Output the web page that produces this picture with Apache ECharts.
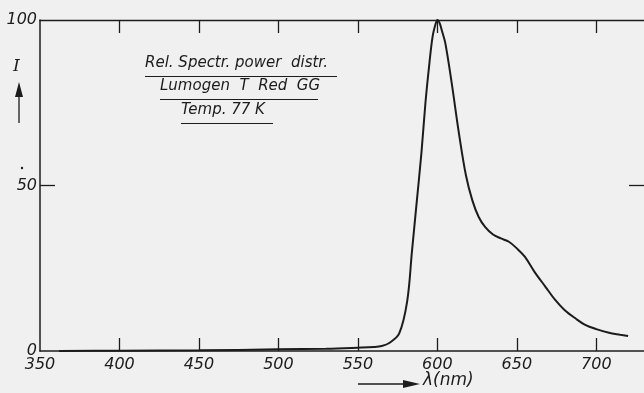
<!DOCTYPE html>
<html>
<head>
<meta charset="utf-8">
<script src="https://cdn.jsdelivr.net/npm/echarts@6/dist/echarts.min.js"></script>
<style>
  html, body { margin: 0; padding: 0; background: #f0f0f0; }
  #chart { width: 644px; height: 393px; }
</style>
</head>
<body>
<div id="chart"></div>
<script>
// wavelength (nm) and relative spectral power
const wavelength = [362, 400, 450, 500, 530, 550, 560, 565, 570, 576, 581, 584, 587, 590, 592.5, 595, 597, 599, 600, 601.5, 603, 605, 609, 613.5, 618, 622, 626, 630, 635, 640, 645, 650, 655, 661, 668, 674, 680, 687, 693, 700, 708, 715, 720];
const intensity  = [0, 0.1, 0.2, 0.5, 0.7, 1.0, 1.2, 1.5, 2.5, 5.3, 15, 30, 45, 60, 75, 87, 95, 99, 100, 99, 96.5, 93, 81, 66, 53, 45.5, 40.5, 37.5, 35.2, 34, 33, 31, 28.5, 24, 19.4, 15.5, 12.4, 9.8, 7.9, 6.6, 5.5, 4.9, 4.5];
const xTicks = [400, 450, 500, 550, 600, 650, 700];
const xLabels = [350, 400, 450, 500, 550, 600, 650, 700];
const yLabels = [0, 50, 100];
const yTicks = [50];

const ink = '#1c1c1c';
const labelFont = { color: ink, fontSize: 16, fontStyle: 'italic', fontFamily: 'DejaVu Sans' };

const chart = echarts.init(document.getElementById('chart'));

const titleLines = [
  { text: 'Rel. Spectr. power  distr.', x: 145, y: 56, w: 192 },
  { text: 'Lumogen  T  Red  GG', x: 160, y: 79, w: 158 },
  { text: 'Temp. 77 K', x: 181, y: 103, w: 92 }
];

const graphic = [];
titleLines.forEach(t => {
  graphic.push({
    type: 'text', left: t.x, top: t.y,
    style: { text: t.text, fill: ink, font: 'italic 15px "DejaVu Sans"' }
  });
  graphic.push({
    type: 'line', shape: { x1: t.x, y1: t.y + 20.5, x2: t.x + t.w, y2: t.y + 20.5 },
    style: { stroke: ink, lineWidth: 1 }
  });
});
// y-axis name with arrow
graphic.push({ type: 'text', left: 13, top: 58, style: { text: 'I', fill: ink, font: 'italic 17px "DejaVu Serif"' } });
graphic.push({ type: 'line', shape: { x1: 19, y1: 123, x2: 19, y2: 95 }, style: { stroke: ink, lineWidth: 1.3 } });
graphic.push({ type: 'polygon', shape: { points: [[19, 82], [15, 97], [23, 97]] }, style: { fill: ink } });
graphic.push({ type: 'circle', shape: { cx: 22, cy: 168, r: 1.2 }, style: { fill: ink } });
// x-axis name with arrow
graphic.push({ type: 'line', shape: { x1: 358, y1: 384, x2: 405, y2: 384 }, style: { stroke: ink, lineWidth: 1.3 } });
graphic.push({ type: 'polygon', shape: { points: [[420, 384], [403, 380], [403, 388]] }, style: { fill: ink } });
graphic.push({ type: 'text', left: 423, top: 372, style: { text: 'λ(nm)', fill: ink, font: 'italic 17px "DejaVu Sans"' } });

chart.setOption({
  backgroundColor: '#f0f0f0',
  animation: false,
  grid: { left: 40, right: 0, top: 20, bottom: 42 },
  xAxis: [
    {
      type: 'value', position: 'bottom', min: 350, max: 730, interval: 50,
      axisLine: { lineStyle: { color: ink, width: 1.6 } },
      axisTick: { inside: true, length: 13, customValues: xTicks, lineStyle: { color: ink, width: 1.3 } },
      axisLabel: Object.assign({ margin: 6, customValues: xLabels }, labelFont),
      splitLine: { show: false }
    },
    {
      type: 'value', position: 'top', min: 350, max: 730, interval: 50,
      axisLine: { show: true, onZero: false, lineStyle: { color: ink, width: 1.3 } },
      axisTick: { show: true, inside: true, length: 13, customValues: xTicks, lineStyle: { color: ink, width: 1.3 } },
      axisLabel: { show: true, color: 'rgba(0,0,0,0)', customValues: xTicks },
      splitLine: { show: false }
    }
  ],
  yAxis: [
    {
      type: 'value', position: 'left', min: 0, max: 100, interval: 50,
      axisLine: { show: true, lineStyle: { color: ink, width: 1.5 } },
      axisTick: { show: true, inside: true, length: 15, customValues: yTicks, lineStyle: { color: ink, width: 1.3 } },
      axisLabel: Object.assign({ margin: 3, customValues: yLabels }, labelFont),
      splitLine: { show: false }
    },
    {
      type: 'value', position: 'right', min: 0, max: 100, interval: 50,
      axisLine: { show: false },
      axisTick: { show: true, inside: true, length: 15, customValues: yTicks, lineStyle: { color: ink, width: 1.3 } },
      axisLabel: { show: false },
      splitLine: { show: false }
    }
  ],
  series: [{
    type: 'line',
    data: wavelength.map((w, i) => [w, intensity[i]]),
    smooth: 0.35,
    showSymbol: false,
    lineStyle: { color: ink, width: 2 }
  }],
  graphic: graphic
});
</script>
</body>
</html>
